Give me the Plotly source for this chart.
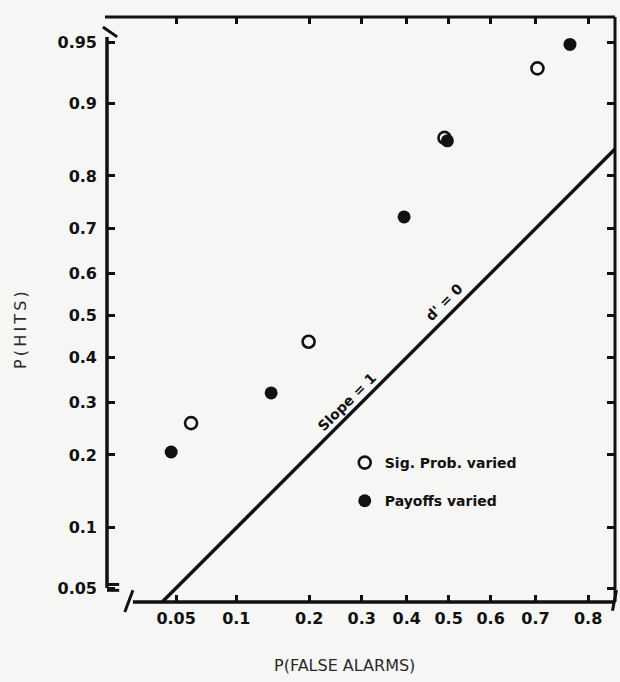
import plotly.graph_objects as go
from statistics import NormalDist

_nd = NormalDist()


def z(p):
    return _nd.inv_cdf(p)


# ---- data (probabilities) ----
tick_probs_x = [0.05, 0.1, 0.2, 0.3, 0.4, 0.5, 0.6, 0.7, 0.8]
tick_text_x = ["0.05", "0.1", "0.2", "0.3", "0.4", "0.5", "0.6", "0.7", "0.8"]
tick_probs_y = [0.05, 0.1, 0.2, 0.3, 0.4, 0.5, 0.6, 0.7, 0.8, 0.9, 0.95]
tick_text_y = ["0.05", "0.1", "0.2", "0.3", "0.4", "0.5", "0.6", "0.7", "0.8", "0.9", "0.95"]

sig_fa = [0.060, 0.199, 0.490, 0.704]
sig_hits = [0.258, 0.437, 0.858, 0.932]

pay_fa = [0.047, 0.142, 0.394, 0.497, 0.768]
pay_hits = [0.205, 0.320, 0.724, 0.854, 0.949]

diag_p = [0.01, 0.99]  # d' = 0 line (P(H) = P(FA))

ink = "#111111"
bg = "#f6f6f4"

fig = go.Figure()

fig.add_trace(go.Scatter(
    x=[z(p) for p in diag_p], y=[z(p) for p in diag_p],
    mode="lines", line=dict(color=ink, width=3.5), showlegend=False,
    hoverinfo="skip"))

fig.add_trace(go.Scatter(
    x=[z(p) for p in sig_fa], y=[z(p) for p in sig_hits],
    mode="markers", name="Sig. Prob. varied", legendgroup="a",
    marker=dict(symbol="circle-open", size=12, color=ink, line=dict(width=2.6)),
    cliponaxis=False))

fig.add_trace(go.Scatter(
    x=[z(p) for p in pay_fa], y=[z(p) for p in pay_hits],
    mode="markers", name="Payoffs varied", legendgroup="b",
    marker=dict(symbol="circle", size=13, color=ink),
    cliponaxis=False))

tick_font = dict(family="DejaVu Sans, sans-serif", size=16, color=ink, weight="bold")

fig.update_xaxes(
    range=[-2.062, 1.004], tickmode="array",
    tickvals=[z(p) for p in tick_probs_x], ticktext=tick_text_x,
    ticks="inside", ticklen=7, tickwidth=2.5, tickcolor=ink, mirror="ticks",
    showline=False, showgrid=False, zeroline=False, tickfont=tick_font,
    ticklabelstandoff=5)
fig.update_yaxes(
    range=[-1.729, 1.801], tickmode="array",
    tickvals=[z(p) for p in tick_probs_y], ticktext=tick_text_y,
    ticks="inside", ticklen=8, tickwidth=2.5, tickcolor=ink, mirror="ticks",
    showline=False, showgrid=False, zeroline=False, tickfont=tick_font,
    ticklabelstandoff=9)

# frame lines (axes with breaks near the lower-left corner)
L = dict(color=ink, width=3)
shapes = [
    dict(type="line", xref="paper", yref="paper", x0=-0.004, x1=1, y0=1, y1=1, line=L),
    dict(type="line", xref="paper", yref="paper", x0=1, x1=1, y0=0, y1=1, line=L),
    dict(type="line", xref="paper", yref="paper", x0=0, x1=0, y0=0.024, y1=0.966, line=dict(color=ink, width=3.5)),
    dict(type="line", xref="paper", yref="paper", x0=0.051, x1=1, y0=0, y1=0, line=dict(color=ink, width=3.5)),
    # break marks
    dict(type="line", xref="paper", yref="paper", x0=-0.008, x1=0.02, y0=0.983, y1=0.966, line=L),
    dict(type="line", xref="paper", yref="paper", x0=0.0, x1=0.024, y0=0.030, y1=0.030, line=L),
    dict(type="line", xref="paper", yref="paper", x0=0.0, x1=0.024, y0=0.020, y1=0.020, line=L),
    dict(type="line", xref="paper", yref="paper", x0=0.035, x1=0.051, y0=-0.017, y1=0.020, line=L),
    dict(type="line", xref="paper", yref="paper", x0=0.995, x1=1.003, y0=-0.015, y1=0.020, line=L),
]

title_font = dict(family="DejaVu Sans, sans-serif", size=16, color="#2a2a2a")
lab_font = dict(family="DejaVu Sans, sans-serif", size=14, color=ink, weight="bold")
thin = "\u2009"

annotations = [
    dict(text=thin.join("P(HITS)"), xref="paper", yref="paper", x=-0.169, y=0.465,
         xanchor="center", yanchor="middle",
         textangle=-90, showarrow=False, font=title_font),
    dict(text="P(FALSE ALARMS)", xref="paper", yref="paper", x=0.4685, y=-0.1077,
         xanchor="center", yanchor="middle", showarrow=False, font=title_font),
    dict(text="Slope = 1", xref="x", yref="y", x=-0.615, y=-0.520,
         xanchor="center", yanchor="middle",
         textangle=-45, showarrow=False, font=lab_font),
    dict(text="d' = 0", xref="x", yref="y", x=-0.028, y=0.083,
         xanchor="center", yanchor="middle",
         textangle=-45, showarrow=False, font=lab_font),
]

fig.update_layout(
    width=620, height=682,
    margin=dict(l=107, r=5, t=17, b=80),
    paper_bgcolor=bg, plot_bgcolor=bg,
    shapes=shapes, annotations=annotations,
    showlegend=True,
    legend=dict(x=0.468, y=0.265, xanchor="left", yanchor="top",
                bgcolor="rgba(0,0,0,0)", tracegroupgap=17,
                font=dict(family="DejaVu Sans, sans-serif", size=14,
                          color=ink, weight="bold")),
)

fig.write_html("out.html")
